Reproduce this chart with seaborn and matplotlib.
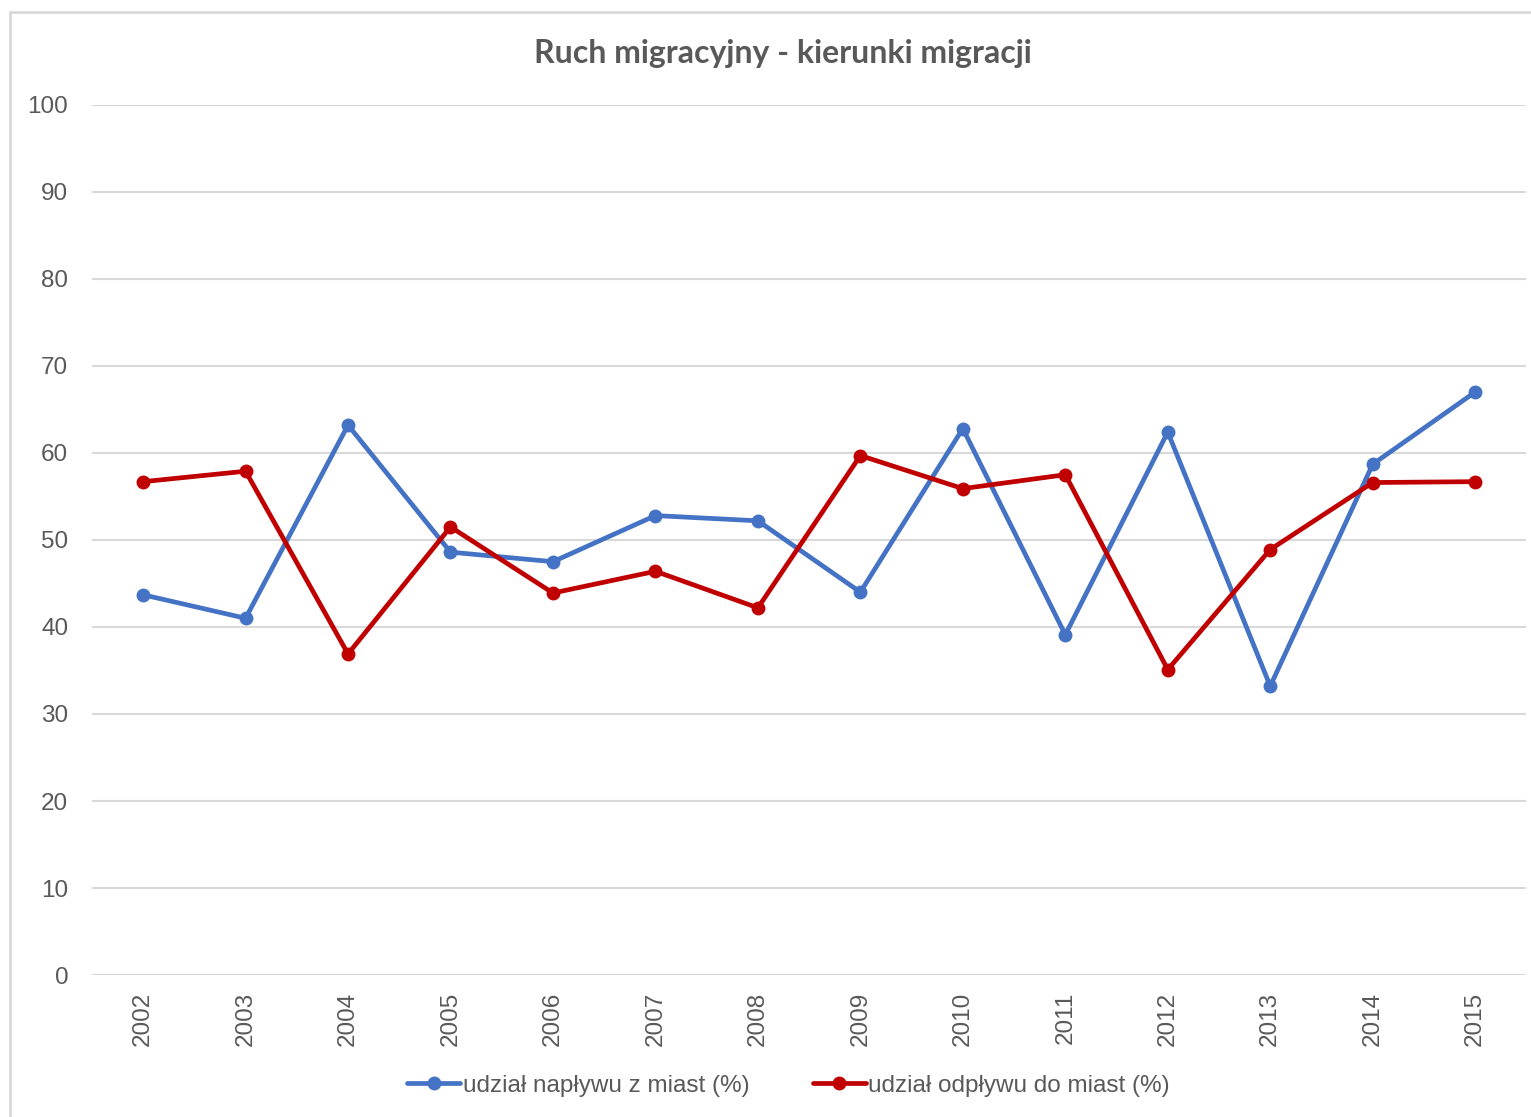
import matplotlib
matplotlib.use("Agg")
from matplotlib import pyplot as plt
from matplotlib.patches import Rectangle
import seaborn as sb
import pandas as pd

years = list(range(2002, 2016))
naplyw = [43.7, 41.0, 63.2, 48.6, 47.5, 52.8, 52.2, 44.0, 62.8, 39.1, 62.4, 33.2, 58.7, 67.0]
odplyw = [56.7, 57.9, 36.9, 51.5, 43.9, 46.4, 42.2, 59.7, 55.9, 57.5, 35.1, 48.9, 56.6, 56.7]
series_names = ['udział napływu z miast (%)', 'udział odpływu do miast (%)']
series_colors = ['#4472C4', '#C00000']
y_ticks = list(range(0, 101, 10))

df = pd.DataFrame({'rok': years, series_names[0]: naplyw, series_names[1]: odplyw})

sb.set_style('white')
plt.rcParams['font.family'] = ['Liberation Sans', 'DejaVu Sans']
txt = '#595959'

fig = plt.figure(figsize=(15.31, 11.17), dpi=100)
ax = fig.add_axes([0.060, 0.1271, 0.937, 0.7790])

# chart border (cut on the right and bottom like the screenshot)
fig.patches.append(Rectangle((10 / 1531, -0.05), 1.2, 1 - 12 / 1117 + 0.05, transform=fig.transFigure,
                             fill=False, edgecolor='#D9D9D9', linewidth=2, zorder=0))

for name, col in zip(series_names, series_colors):
    sb.lineplot(data=df, x='rok', y=name, ax=ax, color=col, linewidth=3.4, marker='o', markersize=10,
                markeredgewidth=0, label=name, legend=False)

ax.set_xlim(2001.5, 2015.5)
ax.set_ylim(0, 100)
ax.set_yticks(y_ticks)
ax.set_xticks(years)
ax.set_xticklabels([str(y) for y in years], rotation=90)
ax.tick_params(axis='both', labelsize=17.5, colors=txt, length=0, pad=12)
ax.tick_params(axis='y', pad=17)
ax.grid(axis='y', color='#D9D9D9', linewidth=1.5)
ax.set_axisbelow(True)
for s in ax.spines.values():
    s.set_visible(False)
ax.set_xlabel('')
ax.set_ylabel('')

fig.text(0.5115, 0.952, 'Ruch migracyjny - kierunki migracji', ha='center', va='center', fontsize=23,
         fontweight='bold', color=txt, family=['Lato', 'DejaVu Sans'])

h, l = ax.get_legend_handles_labels()
leg = fig.legend(h, l, loc='center', bbox_to_anchor=(0.515, 0.028), ncol=2, frameon=False, fontsize=17.5,
                 handlelength=2.2, handletextpad=0.1, columnspacing=2.6)
for t in leg.get_texts():
    t.set_color(txt)

fig.savefig('out.png', dpi=100, facecolor='white')
